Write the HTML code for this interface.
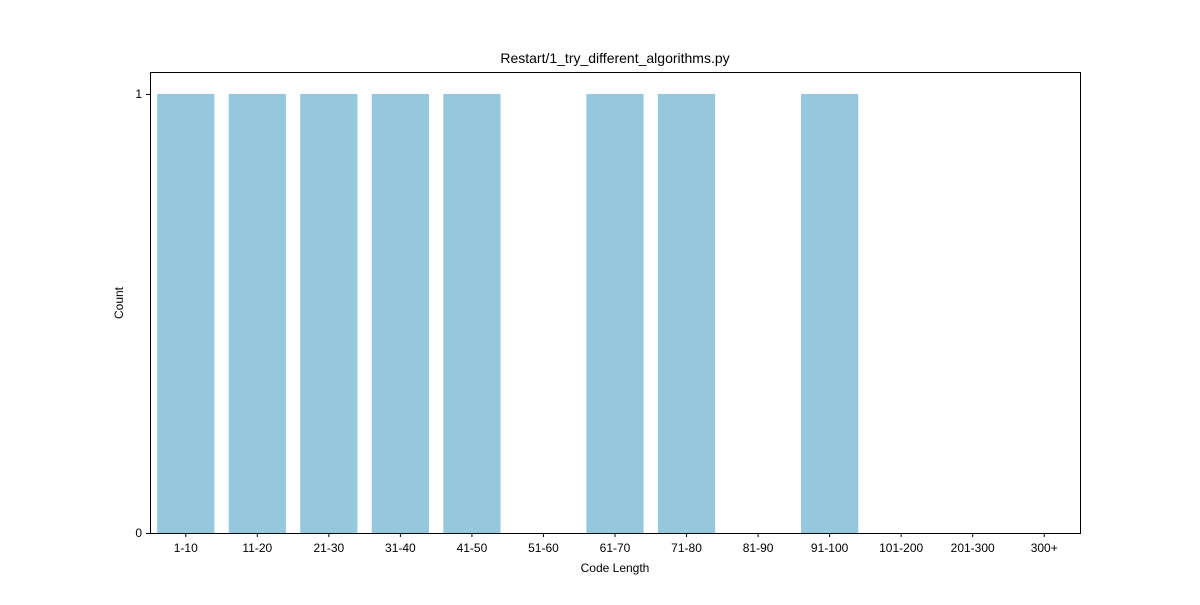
<!DOCTYPE html>
<html><head><meta charset="utf-8"><style>
body{margin:0;background:#fff;}
svg text{font-family:"Liberation Sans","DejaVu Sans",sans-serif;fill:#000;}
</style></head><body>
<svg id="chart" width="1200" height="600">
<rect width="1200" height="600" fill="#fff"/>
<text x="615" y="63" font-size="14" text-anchor="middle">Restart/1_try_different_algorithms.py</text>
<g id="bars"></g>
<rect x="150.5" y="72.5" width="930" height="461" fill="none" stroke="#000" stroke-width="1"/>
<g id="axes"></g>
<text x="615" y="572" font-size="12" text-anchor="middle">Code Length</text>
<text transform="translate(123,303) rotate(-90)" font-size="12" text-anchor="middle">Count</text>
</svg>
<script>
const categories=["1-10","11-20","21-30","31-40","41-50","51-60","61-70","71-80","81-90","91-100","101-200","201-300","300+"];
const counts=[1,1,1,1,1,0,1,1,0,1,0,0,0];
const yTicks=[0,1];
const NS="http://www.w3.org/2000/svg";
const L=150,R=1080,T=72,B=533,yMax=1.05;
const slot=(R-L)/categories.length;
const xc=i=>L+slot*(i+0.5);
const y=v=>B-(v/yMax)*(B-T);
const bars=document.getElementById('bars'),axes=document.getElementById('axes');
function mk(tag,attrs,parent){const e=document.createElementNS(NS,tag);for(const k in attrs)e.setAttribute(k,attrs[k]);parent.appendChild(e);return e;}
categories.forEach((c,i)=>{
  const v=counts[i];
  if(v>0){
    const r=mk('rect',{x:xc(i)-slot*0.4,y:y(v),width:slot*0.8,height:B-y(v),fill:'#95c8dd'},bars);
    
    
  }
  const t=mk('line',{x1:xc(i),x2:xc(i),y1:B,y2:B+4,stroke:'#000'},axes);
  
  
  const l=mk('text',{x:xc(i),y:B+19,'font-size':12,'text-anchor':'middle'},axes);
  l.textContent=c;
  
  
});
yTicks.forEach(v=>{
  const t=mk('line',{x1:L-4,x2:L,y1:y(v)+0.5,y2:y(v)+0.5,stroke:'#000'},axes);
  
  
  const l=mk('text',{x:L-8,y:y(v)+4,'font-size':12,'text-anchor':'end'},axes);
  l.textContent=v;
  
  
});
</script>
</body></html>
